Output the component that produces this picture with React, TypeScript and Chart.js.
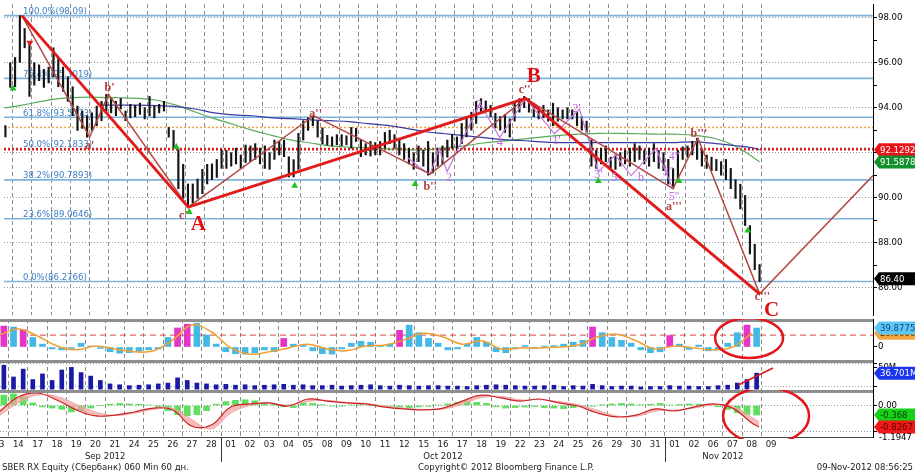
import React, { useEffect, useRef } from 'react';
import { Chart, registerables } from 'chart.js';

Chart.register(...registerables);

const FONT = "'DejaVu Sans Condensed', 'DejaVu Sans', sans-serif";
const SERIF = "'Liberation Serif', 'DejaVu Serif', serif";

// ---------- x axis: trading days ----------
const dayLabels = ['13', '14', '17', '18', '19', '20', '21', '24', '25', '26', '27', '28',
  '01', '02', '03', '04', '05', '08', '09', '10', '11', '12', '15', '16', '17', '18', '19', '22', '23', '24', '25', '26', '29', '30', '31',
  '01', '02', '06', '07', '08', '09'];
const monthLabels = ['Sep 2012', 'Oct 2012', 'Nov 2012'];
const monthStart = [0, 12, 35];
const monthEnd = [11, 34, 40];
const BARS_PER_DAY = 4;

// ---------- main price panel (60 min bars, grouped 4 per day) ----------
const priceLow = [
  92.5, 92.6, 92.7, 94.9,
  94.93, 96.01, 96.66, 94.5,
  95.0, 95.2, 94.9, 95.1,
  95.37, 94.93, 94.72, 94.28,
  93.64, 92.99, 93.08, 92.69,
  92.99, 93.2, 93.42, 93.85,
  93.77, 93.64, 93.94, 93.42,
  93.55, 93.6, 93.7, 93.5,
  93.64, 93.55, 93.77, 93.85,
  92.69, 92.21, 90.4, 89.97,
  89.58, 89.75, 89.97, 90.18,
  90.61, 90.8, 90.9, 91.3,
  91.3, 91.4, 91.5, 91.3,
  91.56, 91.6, 91.7, 91.5,
  91.3, 91.26, 91.7, 91.9,
  91.82, 90.92, 90.92, 91.26,
  92.56, 92.99, 93.2, 92.69,
  92.4, 92.34, 92.3, 92.35,
  92.3, 92.35, 92.2, 92.5,
  91.82, 91.9, 91.85, 91.9,
  91.9, 92.2, 92.4, 92.2,
  91.9, 91.7, 91.5, 91.26,
  91.6, 91.4, 91.0, 91.1,
  91.4, 91.5, 91.8, 92.2,
  92.0, 92.4, 92.7, 93.0,
  93.3, 93.8, 93.9, 93.6,
  93.1, 93.0, 92.9, 92.69,
  93.4, 93.8, 94.0, 93.8,
  93.6, 93.5, 93.55, 93.4,
  93.2, 93.4, 93.5, 93.5,
  93.5, 93.2, 93.0, 92.9,
  91.4, 91.3, 91.5, 91.6,
  91.3, 91.26, 91.4, 91.5,
  91.4, 91.6, 91.7, 91.5,
  91.4, 91.6, 91.3, 91.2,
  90.6, 90.4, 90.7, 91.7,
  91.8, 91.9, 91.7, 91.4,
  91.3, 91.2, 91.2, 91.0,
  90.8, 90.4, 89.97, 89.5,
  88.76, 87.5, 86.8, 86.27,
];
const priceHigh = [
  93.0, 93.1, 93.2, 96.0,
  96.23, 98.09, 97.52, 96.88,
  96.0, 95.9, 95.7, 95.8,
  96.66, 96.23, 95.8, 95.37,
  94.93, 94.07, 93.85, 93.64,
  93.77, 94.07, 94.28, 94.59,
  94.41, 94.28, 94.41, 93.85,
  94.15, 94.1, 94.2, 94.0,
  94.5, 94.07, 94.15, 94.28,
  93.12, 92.99, 92.13, 91.48,
  90.61, 90.61, 90.83, 91.26,
  91.48, 91.5, 91.7, 92.13,
  92.1, 92.0, 92.2, 91.9,
  92.34, 92.3, 92.4, 92.2,
  92.3, 92.0, 92.56, 92.5,
  92.56, 91.82, 91.69, 92.86,
  93.42, 93.55, 93.64, 93.42,
  93.1, 92.77, 92.7, 92.8,
  92.8, 92.75, 93.12, 93.08,
  92.56, 92.4, 92.5, 92.45,
  92.5, 92.9, 93.0, 92.8,
  92.6, 92.4, 92.2, 92.0,
  92.3, 92.1, 92.5, 92.0,
  92.2, 92.3, 92.56, 92.8,
  92.7, 93.3, 93.6, 93.8,
  94.28, 94.4, 94.3, 94.1,
  93.75, 93.6, 93.7, 93.5,
  94.2, 94.4, 94.5, 94.4,
  94.2, 94.0, 94.1, 93.9,
  94.2, 94.0, 93.9, 94.0,
  93.9, 93.8, 93.6, 93.4,
  92.56, 92.1, 92.2, 92.3,
  91.8, 91.9, 92.0, 92.1,
  92.2, 92.4, 92.3, 92.1,
  92.2, 92.4, 92.1, 92.0,
  91.7, 91.3, 92.1, 92.26,
  92.3, 92.5, 92.64, 92.1,
  91.9, 91.8, 91.7, 91.6,
  91.7, 91.3, 90.8, 90.6,
  90.1, 88.76, 87.93, 87.03,
];
const lastPrice = 86.4;

// moving averages, one value per day
const maGreen = [93.98, 94.11, 94.28, 94.41, 94.46, 94.46, 94.44, 94.41, 94.33, 94.11,
  93.81, 93.51, 93.25, 92.99, 92.77, 92.56, 92.43, 92.3, 92.25, 92.21,
  92.17, 92.13, 92.13, 92.21, 92.3, 92.43, 92.51, 92.6, 92.69, 92.77,
  92.82, 92.86, 92.86, 92.84, 92.82, 92.82, 92.77, 92.64, 92.34, 91.82];
const lastGreen = 91.5878;
const maBlue = [null, null, null, null, null, 94.11, 94.11, 94.11, 94.09, 94.05,
  93.94, 93.77, 93.68, 93.64, 93.55, 93.51, 93.46, 93.42, 93.38, 93.29,
  93.21, 93.08, 92.93, 92.84, 92.76, 92.67, 92.58, 92.54, 92.48, 92.45,
  92.45, 92.45, 92.45, 92.45, 92.45, 92.45, 92.48, 92.41, 92.32, 92.22];
const lastBlue = 92.1292;

// Fibonacci retracement levels
const fibPct = ['100.0%', '76.4%', '61.8%', '50.0%', '38.2%', '23.6%', '0.0%'];
const fibLevel = [98.09, 95.3019, 93.5773, 92.1833, 90.7893, 89.0646, 86.2766];
const FIB_RED = 3;
const fibLabelX = 1.04;
const redLevels = [92.1833, 92.1292];
const orangeLevel = 93.12;

// Elliott wave drawings (x in trading-day units)
const abcX = [0.98, 9.64, 27.2, 39.38];
const abcY = [98.09, 89.58, 94.41, 85.73];
const subX = [0.98, 4.51, 5.49, 9.64, 16.17, 22.23, 27.2, 34.87, 36.17, 39.38, 45.28];
const subY = [98.09, 92.69, 94.59, 89.58, 93.64, 91.05, 94.41, 90.4, 92.64, 85.73, 90.98];
const minorAX = [21.09, 21.71, 22.23, 22.69, 23.11, 24.82, 25.85, 27.2];
const minorAY = [91.76, 91.33, 91.03, 92.19, 91.16, 94.19, 92.67, 94.4];
const minorBX = [27.2, 28.7, 30.0, 30.98, 31.87, 32.69, 33.99, 34.87];
const minorBY = [94.4, 92.84, 93.93, 91.16, 91.89, 90.98, 92.19, 90.38];

const upSignalX = [0.52, 9.02, 9.69, 15.18, 21.45, 30.98, 35.18, 38.76];
const upSignalY = [94.85, 92.25, 89.36, 90.53, 90.61, 90.74, 90.74, 88.54];
const downSignalX = [1.4];
const downSignalY = [96.88];

const waveText = ["b'", "a'", "c'", "a''", "b''", "c''", "a'''", "b'''", "c'''"];
const waveTextX = [5.54, 4.51, 9.38, 16.27, 22.23, 27.15, 34.92, 36.22, 39.53];
const waveTextY = [94.88, 92.32, 89.2, 93.71, 90.46, 94.79, 89.6, 92.84, 85.6];
const bigText = ['A', 'B', 'C'];
const bigTextX = [10.16, 27.62, 40.0];
const bigTextY = [88.81, 95.36, 85.0];
const countText = ['2', '2', '4', "1'", "2'", "3'", '5', 'b', '1', "3''", "4''", "5''"];
const countTextX = [23.21, 24.77, 25.85, 28.81, 29.84, 30.98, 31.81, 33.21, 34.15, 34.61, 34.92, 34.92];
const countTextY = [90.9, 94.14, 92.45, 92.54, 93.93, 91.03, 90.9, 90.9, 91.72, 91.16, 91.8, 90.03];

// ---------- oscillator panel (2 per day) ----------
const oscHist = [46, 44, 42, 36, 20, 6, -4, -6, -3, 8, 2, -3, -10, -13, -12, -9, -6, -4, 20, 40,
  48, 50, 25, 6, -10, -14, -15, -12, -6, -10, 18, 6, 4, -8, -14, -15, -4, 8, 12, 10,
  2, 6, 35, 46, 30, 18, 8, -6, -4, 6, 20, 10, -10, -12, -4, 3, -3, 2, 3, 6,
  10, 14, 42, 30, 20, 14, 8, -6, -12, -10, 24, 6, -5, 4, -8, -6, 8, 30, 46, 39.8775];
const oscMagenta = [0, 1, 3, 19, 20, 30, 42, 62, 70, 78];
const oscSignal = [25, 38, 23, 2, -6, 2, -4, -10, -8, 15, 46, 32, -2, -15, -10, -2, 6, -4, -8, 2,
  4, 15, 29, 21, 6, 13, -4, -2, -2, 0, 4, 21, 27, 13, -4, 2, -2, -6, 0, 29];
const oscUpper = 25;

// ---------- volume panel, millions (2 per day) ----------
const volume = [10, 55, 28, 46, 22, 35, 20, 44, 50, 38, 30, 20, 12, 10, 8, 9, 10, 12, 14, 26,
  20, 14, 12, 10, 11, 9, 10, 8, 9, 10, 11, 9, 10, 8, 8, 9, 7, 8, 9, 10,
  8, 7, 9, 8, 7, 8, 8, 7, 7, 6, 8, 9, 10, 9, 8, 7, 7, 8, 9, 6,
  8, 7, 11, 8, 6, 7, 7, 5, 6, 6, 8, 7, 7, 6, 6, 8, 9, 14, 22, 36.701];
const volTrendX = [38.3, 40.1];
const volTrendY = [9.5, 48.6];

// ---------- MACD panel ----------
const macdLine = [-0.25, 0.33, 0.48, 0.21, -0.17, -0.4, -0.37, -0.25, -0.1, -0.17,
  -0.8, -0.75, -0.06, 0.06, 0.1, -0.02, 0.25, 0.17, 0.1, 0.06,
  -0.06, -0.13, -0.17, -0.1, 0.17, 0.4, 0.29, 0.17, 0.25, 0.1,
  -0.02, -0.29, -0.44, -0.37, -0.13, -0.21, -0.06, 0.06, -0.1, -0.67];
const macdLast = -0.8267;
const macdSignal = [-0.4, 0.1, 0.4, 0.35, 0.05, -0.25, -0.38, -0.3, -0.15, -0.12,
  -0.55, -0.9, -0.3, 0.0, 0.08, 0.02, 0.15, 0.2, 0.12, 0.08,
  -0.02, -0.1, -0.15, -0.14, 0.05, 0.3, 0.35, 0.22, 0.22, 0.15,
  0.03, -0.18, -0.4, -0.42, -0.22, -0.18, -0.1, 0.02, -0.02, -0.45];
const signalLast = -0.62;
const macdHist = [0.3, 0.4, 0.45, 0.35, 0.1, -0.05, -0.1, -0.15, -0.25, -0.2, -0.1, 0.0, 0.05, 0.08, 0.06, 0.05, 0.02, -0.05, -0.2, -0.35,
  -0.4, -0.35, -0.2, 0.05, 0.15, 0.2, 0.22, 0.18, 0.1, 0.05, -0.05, -0.08, 0.1, 0.08, 0.03, -0.02, -0.03, 0.02, 0.03, 0.02,
  -0.02, -0.04, -0.06, -0.08, -0.05, -0.03, 0.02, 0.06, 0.12, 0.15, 0.12, 0.08, -0.05, -0.1, -0.08, -0.06, -0.04, -0.08, -0.1, -0.12,
  -0.08, -0.05, -0.03, 0.03, 0.06, 0.08, 0.06, 0.03, 0.05, 0.08, 0.02, 0.04, 0.06, 0.05, 0.02, -0.05, -0.15, -0.28, -0.35, -0.368];
const macdMin = -1.1947;

// ---------- footer ----------
const footerLeft = 'SBER RX Equity (Сбербанк) 060 Min 60 дн.';
const footerMid = 'Copyright© 2012 Bloomberg Finance L.P.';
const footerRight = '09-Nov-2012 08:56:25';

// ---------- layout ----------
const W = 915;
const AXIS_W = 42;
const X_MIN = 0.05;
const X_MAX = 45.28;
const MAIN_H = 319;
const OSC_TOP = 319, OSC_H = 41;
const VOL_TOP = 360, VOL_H = 30;
const MACD_TOP = 390, MACD_H = 84, MACD_PAD = 37;

const barX = (i: number, n: number) => Math.floor(i / n) + ((i % n) + 0.5) / n - 0.5;
const lastX = barX(priceLow.length - 1, BARS_PER_DAY);
const pts = (xs: number[], ys: number[]) => xs.map((x, i) => ({ x, y: ys[i] }));
const daily = (vals: any[], last: number | null) => {
  const d = vals.map((v, i) => ({ x: i, y: v }));
  if (last != null) d.push({ x: lastX, y: last });
  return d;
};
const halfDaily = (vals: number[]) => vals.map((v, i) => ({ x: barX(i, 2), y: v }));

function xAxis() {
  return {
    type: 'linear', min: X_MIN, max: X_MAX, offset: false,
    afterBuildTicks: (s: any) => { s.ticks = dayLabels.slice(0, -1).map((_, i) => ({ value: i + 0.5 })); },
    afterFit: (s: any) => { s.height = 0; s.paddingLeft = 0; s.paddingRight = 0; },
    ticks: { display: false },
    grid: { color: '#8c8c8c', lineWidth: 1, drawTicks: false, offset: false },
    border: { display: false, dash: [4, 3] },
  };
}

function yAxis(min: number, max: number, ticks: number[], label: (v: number) => string, gridColor: (v: number) => string, dash: number[]) {
  return {
    position: 'right', min, max, beginAtZero: false,
    afterBuildTicks: (s: any) => { s.ticks = ticks.map((v) => ({ value: v })); },
    afterFit: (s: any) => { s.width = AXIS_W; s.paddingTop = 0; s.paddingBottom = 0; },
    ticks: { callback: (v: any) => label(Number(v)), font: { family: FONT, size: 9.5 }, color: '#000', padding: 1, autoSkip: false, maxRotation: 0 },
    grid: { color: (c: any) => gridColor(c.tick ? c.tick.value : NaN), tickColor: '#000', tickLength: 4, lineWidth: 1 },
    border: { display: true, color: '#000', width: 1, dash },
  };
}

const baseOptions = (scales: any, padBottom = 0) => ({
  responsive: false,
  animation: false,
  events: [],
  layout: { padding: { left: 0, right: 0, top: 0, bottom: padBottom } },
  plugins: { legend: { display: false }, tooltip: { enabled: false } },
  scales,
});

function valueBox(ctx: any, y: number, text: string, bg: string, fg: string) {
  const x = W - AXIS_W + 1;
  ctx.save();
  ctx.fillStyle = bg;
  ctx.beginPath();
  ctx.moveTo(x, y);
  ctx.lineTo(x + 5, y - 6.5);
  ctx.lineTo(W, y - 6.5);
  ctx.lineTo(W, y + 6.5);
  ctx.lineTo(x + 5, y + 6.5);
  ctx.closePath();
  ctx.fill();
  ctx.fillStyle = fg;
  ctx.font = `9.5px ${FONT}`;
  ctx.textAlign = 'left';
  ctx.textBaseline = 'middle';
  ctx.fillText(text, x + 6, y + 0.5);
  ctx.restore();
}

function separator(chart: any) {
  const { ctx, chartArea: a } = chart;
  ctx.save();
  ctx.fillStyle = '#8e8e8e';
  ctx.fillRect(0, 0, a.right, 3);
  ctx.restore();
}

function ring(ctx: any, cx: number, cy: number, rx: number, ry: number) {
  ctx.save();
  ctx.strokeStyle = '#e3161c';
  ctx.lineWidth = 2.5;
  ctx.beginPath();
  ctx.ellipse(cx, cy, rx, ry, 0, 0, Math.PI * 2);
  ctx.stroke();
  ctx.restore();
}

const mainDeco = {
  id: 'mainDeco',
  beforeDatasetsDraw(chart: any) {
    const { ctx, chartArea: a, scales } = chart;
    const x = scales.x, y = scales.y;
    ctx.save();
    ctx.beginPath();
    ctx.rect(a.left, a.top, a.right - a.left, a.bottom - a.top);
    ctx.clip();
    const hline = (v: number, color: string, width: number, dash: number[]) => {
      const py = y.getPixelForValue(v);
      ctx.strokeStyle = color;
      ctx.lineWidth = width;
      ctx.setLineDash(dash);
      ctx.beginPath();
      ctx.moveTo(a.left, py);
      ctx.lineTo(a.right, py);
      ctx.stroke();
      return py;
    };
    hline(orangeLevel, '#f2a246', 1.5, [2, 2]);
    fibLevel.forEach((v, i) => {
      const py = i === FIB_RED ? y.getPixelForValue(v) : hline(v, '#7fb2da', 1.6, []);
      ctx.setLineDash([]);
      ctx.font = `9.5px ${FONT}`;
      ctx.fillStyle = '#3f80c4';
      ctx.textAlign = 'left';
      ctx.textBaseline = 'alphabetic';
      ctx.fillText(`${fibPct[i]}(${v})`, x.getPixelForValue(fibLabelX), py - 1.5);
    });
    redLevels.forEach((v) => hline(v, '#d41c1c', 1.5, [2, 2]));
    ctx.restore();
  },
  afterDatasetsDraw(chart: any) {
    const { ctx, scales } = chart;
    const x = scales.x, y = scales.y;
    ctx.save();
    ctx.textAlign = 'center';
    ctx.textBaseline = 'middle';
    ctx.font = `bold 12px ${SERIF}`;
    ctx.fillStyle = '#b03a36';
    waveText.forEach((t, i) => ctx.fillText(t, x.getPixelForValue(waveTextX[i]), y.getPixelForValue(waveTextY[i])));
    ctx.font = `12px ${SERIF}`;
    ctx.fillStyle = '#c468e0';
    countText.forEach((t, i) => ctx.fillText(t, x.getPixelForValue(countTextX[i]), y.getPixelForValue(countTextY[i])));
    ctx.font = `bold 21px ${SERIF}`;
    ctx.fillStyle = '#e00f14';
    bigText.forEach((t, i) => ctx.fillText(t, x.getPixelForValue(bigTextX[i]), y.getPixelForValue(bigTextY[i])));
    ctx.restore();
  },
  afterDraw(chart: any) {
    const { ctx, scales } = chart;
    const y = scales.y;
    valueBox(ctx, y.getPixelForValue(lastBlue), lastBlue.toFixed(4), '#e8141c', '#fff');
    valueBox(ctx, y.getPixelForValue(lastGreen), lastGreen.toFixed(4), '#12902c', '#fff');
    valueBox(ctx, y.getPixelForValue(lastPrice), lastPrice.toFixed(2), '#000', '#fff');
  },
};

const oscDeco = {
  id: 'oscDeco',
  beforeDatasetsDraw(chart: any) {
    const { ctx, chartArea: a, scales } = chart;
    const py = scales.y.getPixelForValue(oscUpper);
    ctx.save();
    ctx.strokeStyle = '#d84444';
    ctx.lineWidth = 1;
    ctx.setLineDash([6, 4]);
    ctx.beginPath();
    ctx.moveTo(a.left, py);
    ctx.lineTo(a.right, py);
    ctx.stroke();
    ctx.restore();
  },
  afterDraw(chart: any) {
    const { ctx, scales } = chart;
    const x = scales.x, y = scales.y;
    separator(chart);
    const sigLast = oscSignal[oscSignal.length - 1];
    const histLast = oscHist[oscHist.length - 1];
    valueBox(ctx, y.getPixelForValue(sigLast), sigLast.toFixed(4), '#f5a640', '#5a3000');
    valueBox(ctx, y.getPixelForValue(histLast), histLast.toFixed(4), '#5ec8f2', '#0d4a86');
    ring(ctx, x.getPixelForValue(38.86), y.getPixelForValue(18.9), 34, 20);
  },
};

const volDeco = {
  id: 'volDeco',
  afterDraw(chart: any) {
    const { ctx, scales } = chart;
    separator(chart);
    const v = volume[volume.length - 1];
    valueBox(ctx, scales.y.getPixelForValue(v), `${v.toFixed(3)}M`, '#1c35ee', '#fff');
  },
};

const macdDeco = {
  id: 'macdDeco',
  afterDraw(chart: any) {
    const { ctx, chartArea: a, scales } = chart;
    const x = scales.x, y = scales.y;
    separator(chart);
    ctx.save();
    ctx.strokeStyle = '#444';
    ctx.lineWidth = 1;
    ctx.beginPath();
    ctx.moveTo(0, a.bottom + 0.5);
    ctx.lineTo(a.right, a.bottom + 0.5);
    ctx.stroke();
    ctx.save();
    ctx.beginPath();
    ctx.rect(0, 0, a.right, a.bottom + 2);
    ctx.clip();
    ring(ctx, x.getPixelForValue(39.74), y.getPixelForValue(-0.4), 43, 28);
    ctx.restore();
    valueBox(ctx, y.getPixelForValue(macdHist[macdHist.length - 1]), macdHist[macdHist.length - 1].toFixed(3), '#19d019', '#043a04');
    valueBox(ctx, y.getPixelForValue(macdLast), macdLast.toFixed(4), '#f01818', '#5a0000');
    ctx.font = `9.5px ${FONT}`;
    ctx.fillStyle = '#000';
    ctx.textAlign = 'left';
    ctx.textBaseline = 'middle';
    ctx.fillText(macdMin.toFixed(4), a.right + 6, y.getPixelForValue(macdMin) + 1);
    const dayY = 445 - MACD_TOP;
    ctx.textAlign = 'center';
    ctx.fillStyle = '#222';
    dayLabels.forEach((d, i) => ctx.fillText(d, x.getPixelForValue(i), dayY));
    const monY = 457 - MACD_TOP;
    monthLabels.forEach((m, i) => {
      const cx = x.getPixelForValue((monthStart[i] + monthEnd[i]) / 2);
      ctx.fillText(m, cx, monY);
      if (i > 0) {
        const sx = Math.round(x.getPixelForValue(monthStart[i] - 0.5)) + 0.5;
        ctx.beginPath();
        ctx.moveTo(sx, a.bottom);
        ctx.lineTo(sx, 462 - MACD_TOP);
        ctx.strokeStyle = '#333';
        ctx.stroke();
      }
    });
    const fY = 468 - MACD_TOP;
    ctx.textAlign = 'left';
    ctx.fillText(footerLeft, 2, fY);
    ctx.fillText(footerMid, 418, fY);
    ctx.textAlign = 'right';
    ctx.fillText(footerRight, W - 2, fY);
    ctx.restore();
  },
};

export default function App() {
  const mainRef = useRef<HTMLCanvasElement>(null);
  const oscRef = useRef<HTMLCanvasElement>(null);
  const volRef = useRef<HTMLCanvasElement>(null);
  const macdRef = useRef<HTMLCanvasElement>(null);

  useEffect(() => {
    const bars = priceLow.map((lo, i) => ({ x: barX(i, BARS_PER_DAY), y: [lo, priceHigh[i]] }));
    const hidden = 'rgba(0,0,0,0)';

    const main = new Chart(mainRef.current as any, {
      type: 'bar',
      data: {
        datasets: [
          { type: 'line', data: pts(upSignalX, upSignalY), showLine: false, pointStyle: 'triangle', pointRadius: 4, pointBackgroundColor: '#22c222', pointBorderWidth: 0, order: 0 },
          { type: 'line', data: pts(downSignalX, downSignalY), showLine: false, pointStyle: 'triangle', pointRotation: 180, pointRadius: 4, pointBackgroundColor: '#e02020', pointBorderWidth: 0, order: 0 },
          { type: 'line', data: pts(abcX, abcY), borderColor: '#e31a1a', borderWidth: 3, pointRadius: 0, order: 1 },
          { type: 'line', data: pts(subX, subY), borderColor: '#b24a44', borderWidth: 1.5, pointRadius: 0, order: 2 },
          { type: 'line', data: pts(minorAX, minorAY), borderColor: '#c77ae0', borderWidth: 1.2, pointRadius: 0, order: 3 },
          { type: 'line', data: pts(minorBX, minorBY), borderColor: '#c77ae0', borderWidth: 1.2, pointRadius: 0, order: 3 },
          { type: 'bar', data: bars, backgroundColor: '#151515', barThickness: 1.5, grouped: false, order: 5 },
          { type: 'line', data: daily(maBlue, lastBlue), borderColor: '#3a3aa6', borderWidth: 1.2, pointRadius: 0, tension: 0.4, spanGaps: true, order: 6 },
          { type: 'line', data: daily(maGreen, lastGreen), borderColor: '#5aaa5a', borderWidth: 1.2, pointRadius: 0, tension: 0.4, order: 7 },
        ],
      } as any,
      options: baseOptions({
        x: xAxis(),
        y: yAxis(84.787, 98.6065, [86, 87, 88, 89, 90, 91, 92, 93, 94, 95, 96, 97, 98],
          (v) => (v % 2 === 0 ? v.toFixed(2) : ''),
          (v) => (v % 2 === 0 ? '#9a9a9a' : hidden), [1, 2]),
      }) as any,
      plugins: [mainDeco],
    });

    const osc = new Chart(oscRef.current as any, {
      type: 'bar',
      data: {
        datasets: [
          { type: 'line', data: daily(oscSignal, null), borderColor: '#f0a030', borderWidth: 1.5, pointRadius: 0, tension: 0.4, order: 0 },
          { type: 'bar', data: halfDaily(oscHist), backgroundColor: (c: any) => (oscMagenta.includes(c.dataIndex) ? '#e535c8' : '#45b9e6'), barThickness: 6, grouped: false, order: 1 },
        ],
      } as any,
      options: baseOptions({
        x: xAxis(),
        y: yAxis(-27.31, 58.82, [0], () => '0', () => hidden, []),
      }) as any,
      plugins: [oscDeco],
    });

    const vol = new Chart(volRef.current as any, {
      type: 'bar',
      data: {
        datasets: [
          { type: 'line', data: pts(volTrendX, volTrendY), borderColor: '#e3161c', borderWidth: 1.5, pointRadius: 0, order: 0 },
          { type: 'bar', data: halfDaily(volume), backgroundColor: '#1a1aa4', barThickness: 4, grouped: false, order: 1 },
        ],
      } as any,
      options: baseOptions({
        x: xAxis(),
        y: yAxis(-2, 67, [5, 50, 60], (v) => (v === 50 ? '50M' : ''), (v) => (v === 50 ? hidden : '#9a9a9a'), [1, 2]),
      }) as any,
      plugins: [volDeco],
    });

    const macd = new Chart(macdRef.current as any, {
      type: 'bar',
      data: {
        datasets: [
          { type: 'line', data: daily(macdLine, macdLast), borderColor: '#cc2222', borderWidth: 1.2, pointRadius: 0, tension: 0.4, fill: { target: '+1', above: 'rgba(242,160,160,0.7)', below: 'rgba(242,160,160,0.7)' }, order: 0 },
          { type: 'line', data: daily(macdSignal, signalLast), borderColor: 'rgba(240,170,170,0.9)', borderWidth: 1, pointRadius: 0, tension: 0.4, order: 1 },
          { type: 'bar', data: halfDaily(macdHist), backgroundColor: '#5ee05e', barThickness: 6, grouped: false, order: 2 },
        ],
      } as any,
      options: baseOptions({
        x: xAxis(),
        y: yAxis(-1.2115, 0.5962, [0, -1], (v) => (v === 0 ? '0.00' : ''), () => '#9a9a9a', [1, 2]),
      }, MACD_PAD) as any,
      plugins: [macdDeco],
    });

    return () => {
      main.destroy();
      osc.destroy();
      vol.destroy();
      macd.destroy();
    };
  }, []);

  const pos = (top: number): React.CSSProperties => ({ position: 'absolute', left: 0, top, display: 'block' });
  return (
    <div style={{ position: 'absolute', left: 0, top: 0, width: W, height: 474, background: '#fff', overflow: 'hidden' }}>
      <canvas ref={mainRef} width={W} height={MAIN_H} style={pos(0)} />
      <canvas ref={oscRef} width={W} height={OSC_H} style={pos(OSC_TOP)} />
      <canvas ref={volRef} width={W} height={VOL_H} style={pos(VOL_TOP)} />
      <canvas ref={macdRef} width={W} height={MACD_H} style={pos(MACD_TOP)} />
    </div>
  );
}
